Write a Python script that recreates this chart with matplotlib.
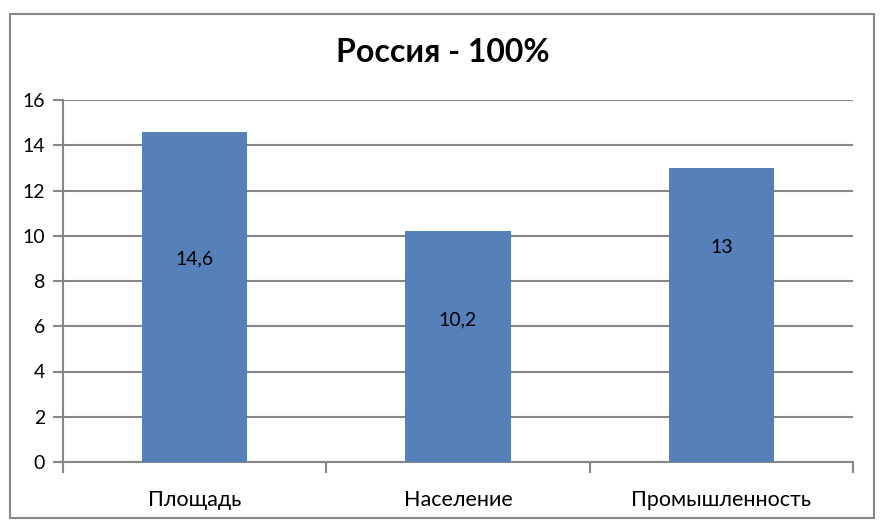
import matplotlib

matplotlib.use("Agg")

import matplotlib.pyplot as plt
from matplotlib.patches import Rectangle

categories = ["Площадь", "Население", "Промышленность"]
values = [14.6, 10.2, 13.0]
value_labels = ["14,6", "10,2", "13"]
label_y = [9.0, 6.3, 9.5]
y_ticks = [0, 2, 4, 6, 8, 10, 12, 14, 16]

BAR = "#5580BA"
GRID = "#878787"

plt.rcParams["font.family"] = ["Lato", "DejaVu Sans"]

fig = plt.figure(figsize=(8.86, 5.30), dpi=100)
fig.patches.append(
    Rectangle((10 / 886, 1 - 518 / 530), 864 / 886, 504 / 530,
              transform=fig.transFigure, fill=False, edgecolor=GRID, linewidth=1.5)
)

ax = fig.add_axes([63 / 886, 1 - 462 / 530, 790 / 886, 362 / 530])
x = range(len(categories))
ax.bar(x, values, width=0.4, color=BAR, zorder=3)
for i, (lbl, yy) in enumerate(zip(value_labels, label_y)):
    ax.text(i, yy, lbl, ha="center", va="center", fontsize=14, color="black", zorder=4)

ax.set_xlim(-0.5, len(categories) - 0.5)
ax.set_ylim(0, 16)
ax.set_yticks(y_ticks)
ax.yaxis.grid(True, color=GRID, linewidth=1.5, zorder=0)
ax.tick_params(axis="y", length=7, width=1.5, color=GRID, labelsize=14, pad=6)

ax.set_xticks(list(x))
ax.set_xticklabels(categories, fontsize=15.5)
ax.tick_params(axis="x", which="major", length=0, pad=20)
ax.set_xticks([i - 0.5 for i in range(len(categories) + 1)], minor=True)
ax.tick_params(axis="x", which="minor", length=8, width=1.5, color=GRID)

for side in ("top", "right"):
    ax.spines[side].set_visible(False)
for side in ("left", "bottom"):
    ax.spines[side].set_color(GRID)
    ax.spines[side].set_linewidth(1.5)

fig.text(0.5, 1 - 53 / 530, "Россия - 100%", ha="center", va="center",
         fontsize=23, fontweight="bold")

fig.savefig("out.png", dpi=100, facecolor="white")
